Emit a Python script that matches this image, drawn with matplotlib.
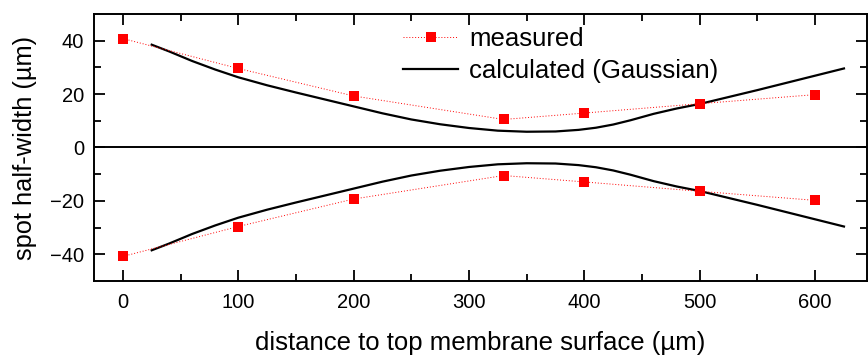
import matplotlib
matplotlib.use('Agg')
import matplotlib.pyplot as plt
import numpy as np

plt.rcParams['font.family'] = ['Liberation Sans', 'DejaVu Sans']

# measured spot half-width (symmetric about the axis)
measured_x = [0, 100, 200, 330, 400, 500, 600]
measured_y = [40.8, 29.6, 19.3, 10.5, 12.9, 16.4, 19.8]

# calculated (Gaussian) beam half-width
calc_x = [25, 40, 60, 80, 100, 125, 150, 175, 200, 225, 250, 275, 300, 325, 350,
          375, 395, 410, 425, 440, 460, 480, 500, 525, 550, 575, 600, 625]
calc_y = [38.5, 36.0, 32.4, 29.2, 26.3, 23.3, 20.6, 18.0, 15.4, 12.8, 10.5, 8.7, 7.3,
          6.3, 5.9, 6.0, 6.6, 7.4, 8.6, 10.2, 12.6, 14.6, 16.3, 18.9, 21.5, 24.2, 26.9, 29.6]

fig = plt.figure(figsize=(8.68, 3.56), dpi=100)
ax = fig.add_axes([0.1083, 0.2107, 0.8906, 0.75])

meas_style = dict(color='red', linestyle=(0, (1, 2)), linewidth=0.7,
                  marker='s', markersize=7, markeredgewidth=0, zorder=4)
calc_style = dict(color='black', linewidth=1.6, zorder=3)

my = np.array(measured_y)
cy = np.array(calc_y)
ax.plot(measured_x, my, label='measured', **meas_style)
ax.plot(measured_x, -my, **meas_style)
ax.plot(calc_x, cy, label='calculated (Gaussian)', **calc_style)
ax.plot(calc_x, -cy, **calc_style)

ax.axhline(0, color='black', linewidth=1.4, zorder=2)

ax.set_xlim(-25, 645)
ax.set_ylim(-50, 50)
ax.set_xticks(np.arange(0, 601, 100))
ax.set_xticks(np.arange(50, 601, 100), minor=True)
ax.set_yticks([-40, -20, 0, 20, 40])
ax.set_yticks([-30, -10, 10, 30], minor=True)

ax.tick_params(which='both', direction='in', top=True, right=True, width=1.3,
               labelsize=14.5)
ax.tick_params(which='major', length=8)
ax.tick_params(which='minor', length=5)
ax.tick_params(axis='x', pad=9)
ax.tick_params(axis='y', pad=7)
for sp in ax.spines.values():
    sp.set_linewidth(1.4)

ax.set_xlabel('distance to top membrane surface (\u00b5m)', fontsize=18.5, labelpad=13)
ax.set_ylabel('spot half-width (\u00b5m)', fontsize=18.3)
ax.yaxis.set_label_coords(-0.074, 0.5)

ax.legend(loc='upper left', bbox_to_anchor=(0.40, 0.95), frameon=False,
          fontsize=18.5, handlelength=2.14, handletextpad=0.43, labelspacing=0.28,
          borderpad=0, borderaxespad=0)

fig.savefig('out.png', dpi=100)
